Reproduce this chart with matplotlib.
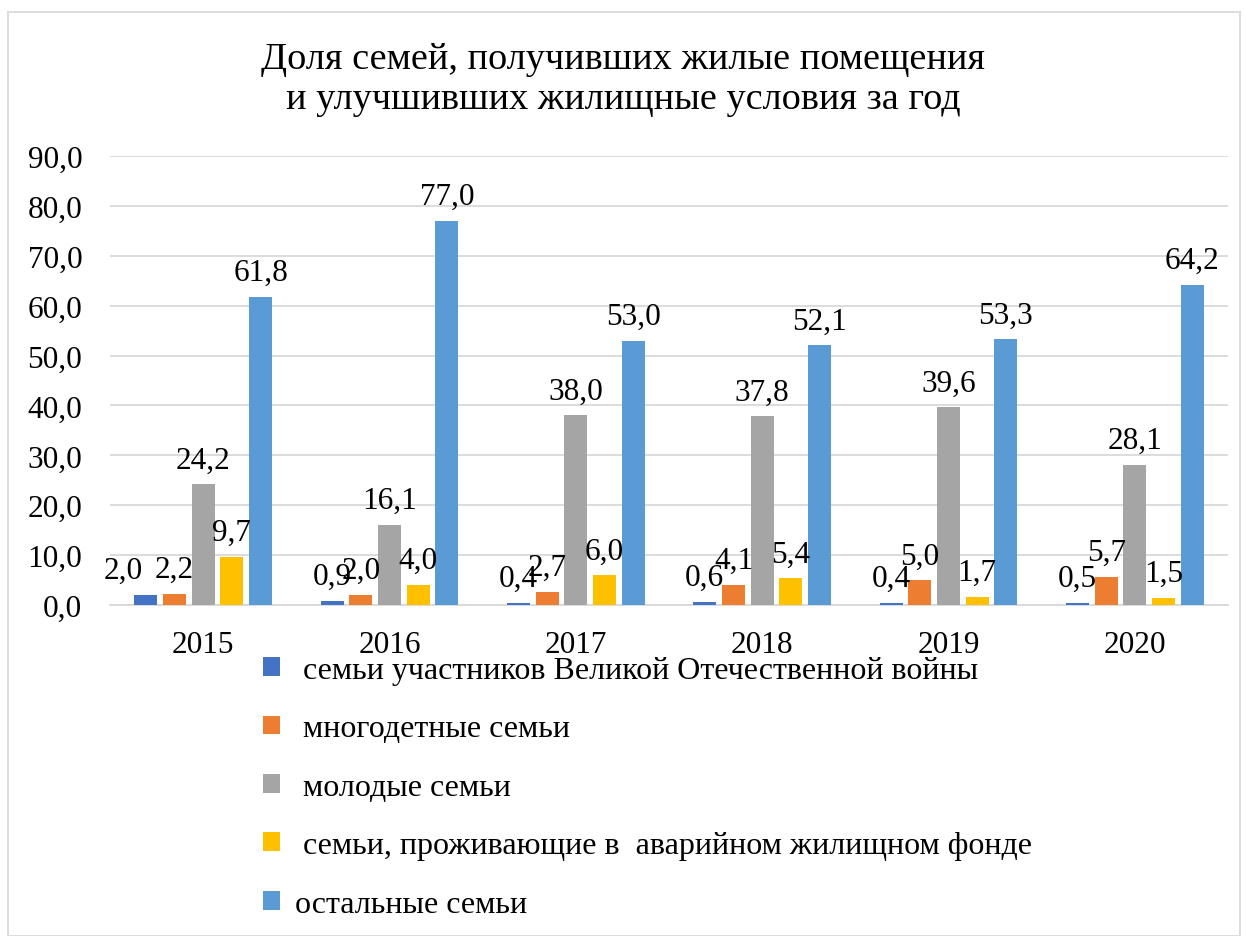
import matplotlib
matplotlib.use("Agg")
import matplotlib.pyplot as plt
import numpy as np
from matplotlib.patches import Rectangle

plt.rcParams['font.family'] = ['Liberation Serif', 'DejaVu Serif']

years = ["2015", "2016", "2017", "2018", "2019", "2020"]
series_names = [
    " семьи участников Великой Отечественной войны",
    " многодетные семьи",
    " молодые семьи",
    " семьи, проживающие в  аварийном жилищном фонде",
    "остальные семьи",
]
veterans = [2.0, 0.9, 0.4, 0.6, 0.4, 0.5]
large_families = [2.2, 2.0, 2.7, 4.1, 5.0, 5.7]
young_families = [24.2, 16.1, 38.0, 37.8, 39.6, 28.1]
emergency_housing = [9.7, 4.0, 6.0, 5.4, 1.7, 1.5]
other_families = [61.8, 77.0, 53.0, 52.1, 53.3, 64.2]
yticks = [0, 10, 20, 30, 40, 50, 60, 70, 80, 90]

all_series = [veterans, large_families, young_families, emergency_housing, other_families]
colors = ["#4472C4", "#ED7D31", "#A5A5A5", "#FFC000", "#5B9BD5"]

W, H = 1246, 937
fig = plt.figure(figsize=(W / 100, H / 100), dpi=100)
ax = fig.add_axes([110 / W, 1 - 606 / H, (1228 - 110) / W, (606 - 157) / H])

x = np.arange(len(years))
pitch = 0.154
width = 0.123
handles = []
for i, (vals, c) in enumerate(zip(all_series, colors)):
    pos = x + (i - 2) * pitch
    b = ax.bar(pos, vals, width=width, color=c, zorder=3)
    handles.append(b)
    for j, (p, v) in enumerate(zip(pos, vals)):
        dx = -16 if (i == 0 and j == 0) else 0
        ax.annotate(f"{v:.1f}".replace(".", ","), (p, v), xytext=(dx, 7),
                    textcoords="offset points", ha="center", va="bottom",
                    fontsize=22.5, color="black", zorder=4)

ax.set_xlim(-0.5, len(years) - 0.5)
ax.set_ylim(0, 90)
ax.set_yticks(yticks)
ax.set_yticklabels([f"{t:.1f}".replace(".", ",") for t in yticks], fontsize=22.5)
ax.set_xticks(x)
ax.set_xticklabels(years, fontsize=22.5)
ax.tick_params(axis="both", length=0)
ax.tick_params(axis="x", pad=18)
ax.tick_params(axis="y", pad=20)
ax.grid(axis="y", color="#D9D9D9", linewidth=1.3, zorder=0)
for s in ["top", "right", "left"]:
    ax.spines[s].set_visible(False)
ax.spines["bottom"].set_color("#D9D9D9")
ax.spines["bottom"].set_linewidth(1.3)

fig.text(0.5, 1 - 80 / H, "Доля семей, получивших жилые помещения\nи улучшивших жилищные условия за год",
         ha="center", va="center", fontsize=27.5, linespacing=1.2)

leg = fig.legend(handles, series_names, loc="upper left",
                 bbox_to_anchor=(263 / W, 1 - 657 / H), frameon=False,
                 borderpad=0, borderaxespad=0,
                 fontsize=23, handlelength=0.53, handleheight=0.53,
                 handletextpad=0.47, labelspacing=0.92)

fig.add_artist(Rectangle((8 / W, 0.0), (1240 - 8) / W, 1 - 13 / H,
                         transform=fig.transFigure, fill=False,
                         edgecolor="#D9D9D9", linewidth=1.3))

fig.savefig("out.png", dpi=100)
